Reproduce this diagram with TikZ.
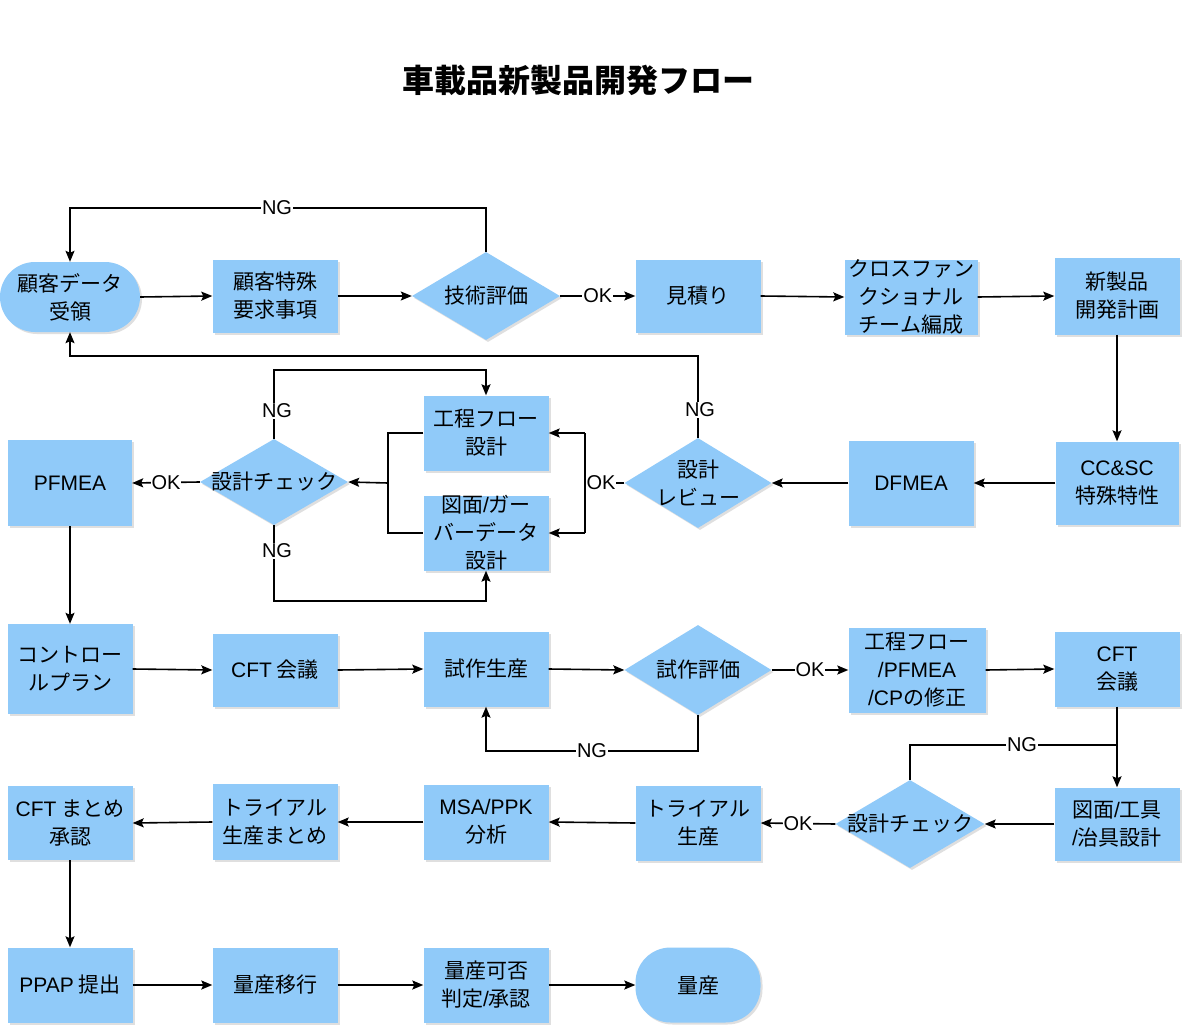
\documentclass[tikz,border=0pt]{standalone}
\usepackage{fontspec}
\setmainfont{Noto Sans CJK JP}
\newfontfamily\lat{Liberation Sans}
\usetikzlibrary{shapes.geometric,arrows.meta,shadows}
\definecolor{nodeblue}{HTML}{90CAF9}
\newcommand{\slsh}{{\lat /}}
\tikzset{
  base/.style={fill=nodeblue, inner sep=0pt, align=center,
    font=\fontsize{21}{28}\selectfont,
    drop shadow={fill=black!35, opacity=0.35, shadow xshift=2pt, shadow yshift=-2pt}},
  box/.style={base, rectangle, minimum width=125pt, minimum height=75pt},
  stad/.style={base, rectangle, rounded corners=35pt, minimum width=125pt, minimum height=75pt},
  dia/.style={base, diamond, minimum width=148pt, minimum height=88pt},
  dtext/.style={align=center, font=\fontsize{21}{28}\selectfont, inner sep=0pt},
  lbl/.style={fill=white, inner sep=1pt, font=\fontsize{20}{24}\selectfont},
  ln/.style={line width=1.6pt},
  arr/.style={ln, -{Stealth[length=11pt,width=9pt,inset=2pt]}}
}
\begin{document}
\begin{tikzpicture}[x=1pt,y=-1pt]
\useasboundingbox[fill=white] (0,0) rectangle (1183,1030);
\node[font=\fontsize{32}{36}\selectfont\bfseries] (title) at (578,80) {車載品新製品開発フロー};

% Row 1
\node[stad, minimum width=140pt, minimum height=70pt] (n1) at (70,297) {顧客データ\\受領};
\node[box, minimum height=73pt] (n2) at (275,296) {顧客特殊\\要求事項};
\node[dia] (d1) at (486,296) {};
\node[dtext] (d1t) at (d1) {技術評価};
\node[box, minimum height=73pt] (n3) at (698,296) {見積り};
\node[box, minimum width=133pt, minimum height=75pt] (n4) at (911,297) {クロスファン\\クショナル\\チーム編成};
\node[box, minimum height=77pt] (n5) at (1117,296) {新製品\\開発計画};

% Row 2
\node[box, minimum width=124pt, minimum height=86pt] (n6) at (70,483) {\lat PFMEA};
\node[dia, minimum height=86pt] (d2) at (274,482) {};
\node[dtext] (d2t) at (d2) {設計チェック};
\node[box] (n7) at (486,433) {工程フロー\\設計};
\node[box] (n8) at (486,533) {図面\slsh ガー\\バーデータ\\設計};
\node[dia, minimum width=147pt, minimum height=90pt] (d3) at (698,483) {};
\node[dtext] (d3t) at (d3) {設計\\レビュー};
\node[box, minimum height=85pt] (n9) at (911,483) {\lat DFMEA};
\node[box, minimum width=123pt, minimum height=83pt] (n10) at (1117,483) {{\lat CC\&SC}\\特殊特性};

% Row 3
\node[box, minimum height=90pt] (n11) at (70,669) {コントロー\\ルプラン};
\node[box, minimum height=73pt] (n12) at (275,670) {{\lat CFT} 会議};
\node[box] (n13) at (486,669) {試作生産};
\node[dia, minimum width=147pt, minimum height=90pt] (d4) at (698,670) {};
\node[dtext] (d4t) at (d4) {試作評価};
\node[box, minimum width=137pt, minimum height=85pt] (n14) at (917,670) {工程フロー\\{\lat /PFMEA}\\{\lat /CP}の修正};
\node[box] (n15) at (1117,669) {{\lat CFT}\\会議};

% Row 4
\node[box, minimum height=74pt] (n16) at (70,823) {{\lat CFT} まとめ\\承認};
\node[box, minimum height=76pt] (n17) at (275,822) {トライアル\\生産まとめ};
\node[box] (n18) at (486,822) {{\lat MSA/PPK}\\分析};
\node[box] (n19) at (698,823) {トライアル\\生産};
\node[dia, minimum width=149pt] (d5) at (910,824) {};
\node[dtext] (d5t) at (d5) {設計チェック};
\node[box, minimum height=73pt] (n20) at (1117,824) {図面\slsh 工具\\\slsh 治具設計};

% Row 5
\node[box] (n21) at (70,985) {{\lat PPAP} 提出};
\node[box] (n22) at (275,985) {量産移行};
\node[box] (n23) at (486,985) {量産可否\\判定\slsh 承認};
\node[stad] (n24) at (698,985) {量産};

% Connectors row 1
\draw[arr] (n1.east) -- (n2.west);
\draw[arr] (n2.east) -- (d1.west);
\draw[arr] (d1.east) -- node[lbl] (okA) {\lat OK} (n3.west);
\draw[arr] (n3.east) -- (n4.west);
\draw[arr] (n4.east) -- (n5.west);
\coordinate (cA) at (486,208);
\draw[arr] (d1.north) -- (cA) -| (n1.north);
\node[lbl] (ngA) at (277,208) {\lat NG};
\draw[arr] (n5.south) -- (n10.north);

% Row 2
\draw[arr] (n10.west) -- (n9.east);
\draw[arr] (n9.west) -- (d3.east);
\coordinate (cB) at (698,356);
\draw[arr] (d3.north) -- (cB) -| (n1.south);
\node[lbl] (ngB) at (700,410) {\lat NG};
\coordinate (cC) at (585,483);
\coordinate (cC1) at (585,433);
\coordinate (cC2) at (585,533);
\draw[ln] (d3.west) -- (cC);
\draw[ln] (cC1) -- (cC2);
\draw[arr] (cC1) -- (n7.east);
\draw[arr] (cC2) -- (n8.east);
\node[lbl, inner sep=0.5pt] (okB) at (601,483) {\lat OK};
\coordinate (cD1) at (388,433);
\coordinate (cD2) at (388,533);
\coordinate (cD) at (388,483);
\draw[ln] (n7.west) -- (cD1) -- (cD2) -- (n8.west);
\draw[arr] (cD) -- (d2.east);
\coordinate (cE) at (274,370);
\draw[arr] (d2.north) -- (cE) -| (n7.north);
\node[lbl] (ngC) at (277,411) {\lat NG};
\coordinate (cF) at (274,601);
\draw[arr] (d2.south) -- (cF) -| (n8.south);
\node[lbl] (ngD) at (277,551) {\lat NG};
\draw[arr] (d2.west) -- node[lbl] (okC) {\lat OK} (n6.east);
\draw[arr] (n6.south) -- (n11.north);

% Row 3
\draw[arr] (n11.east) -- (n12.west);
\draw[arr] (n12.east) -- (n13.west);
\draw[arr] (n13.east) -- (d4.west);
\draw[arr] (d4.east) -- node[lbl] (okD) {\lat OK} (n14.west);
\draw[arr] (n14.east) -- (n15.west);
\coordinate (cG) at (698,751);
\draw[arr] (d4.south) -- (cG) -| (n13.south);
\node[lbl] (ngE) at (592,751) {\lat NG};
\draw[arr] (n15.south) -- (n20.north);
\coordinate (cH) at (910,745);
\coordinate (cH2) at (1117,745);
\draw[ln] (d5.north) -- (cH) -- (cH2);
\node[lbl] (ngF) at (1022,745) {\lat NG};

% Row 4
\draw[arr] (n20.west) -- (d5.east);
\draw[arr] (d5.west) -- node[lbl] (okE) {\lat OK} (n19.east);
\draw[arr] (n19.west) -- (n18.east);
\draw[arr] (n18.west) -- (n17.east);
\draw[arr] (n17.west) -- (n16.east);
\draw[arr] (n16.south) -- (n21.north);

% Row 5
\draw[arr] (n21.east) -- (n22.west);
\draw[arr] (n22.east) -- (n23.west);
\draw[arr] (n23.east) -- (n24.west);
\end{tikzpicture}
\end{document}
